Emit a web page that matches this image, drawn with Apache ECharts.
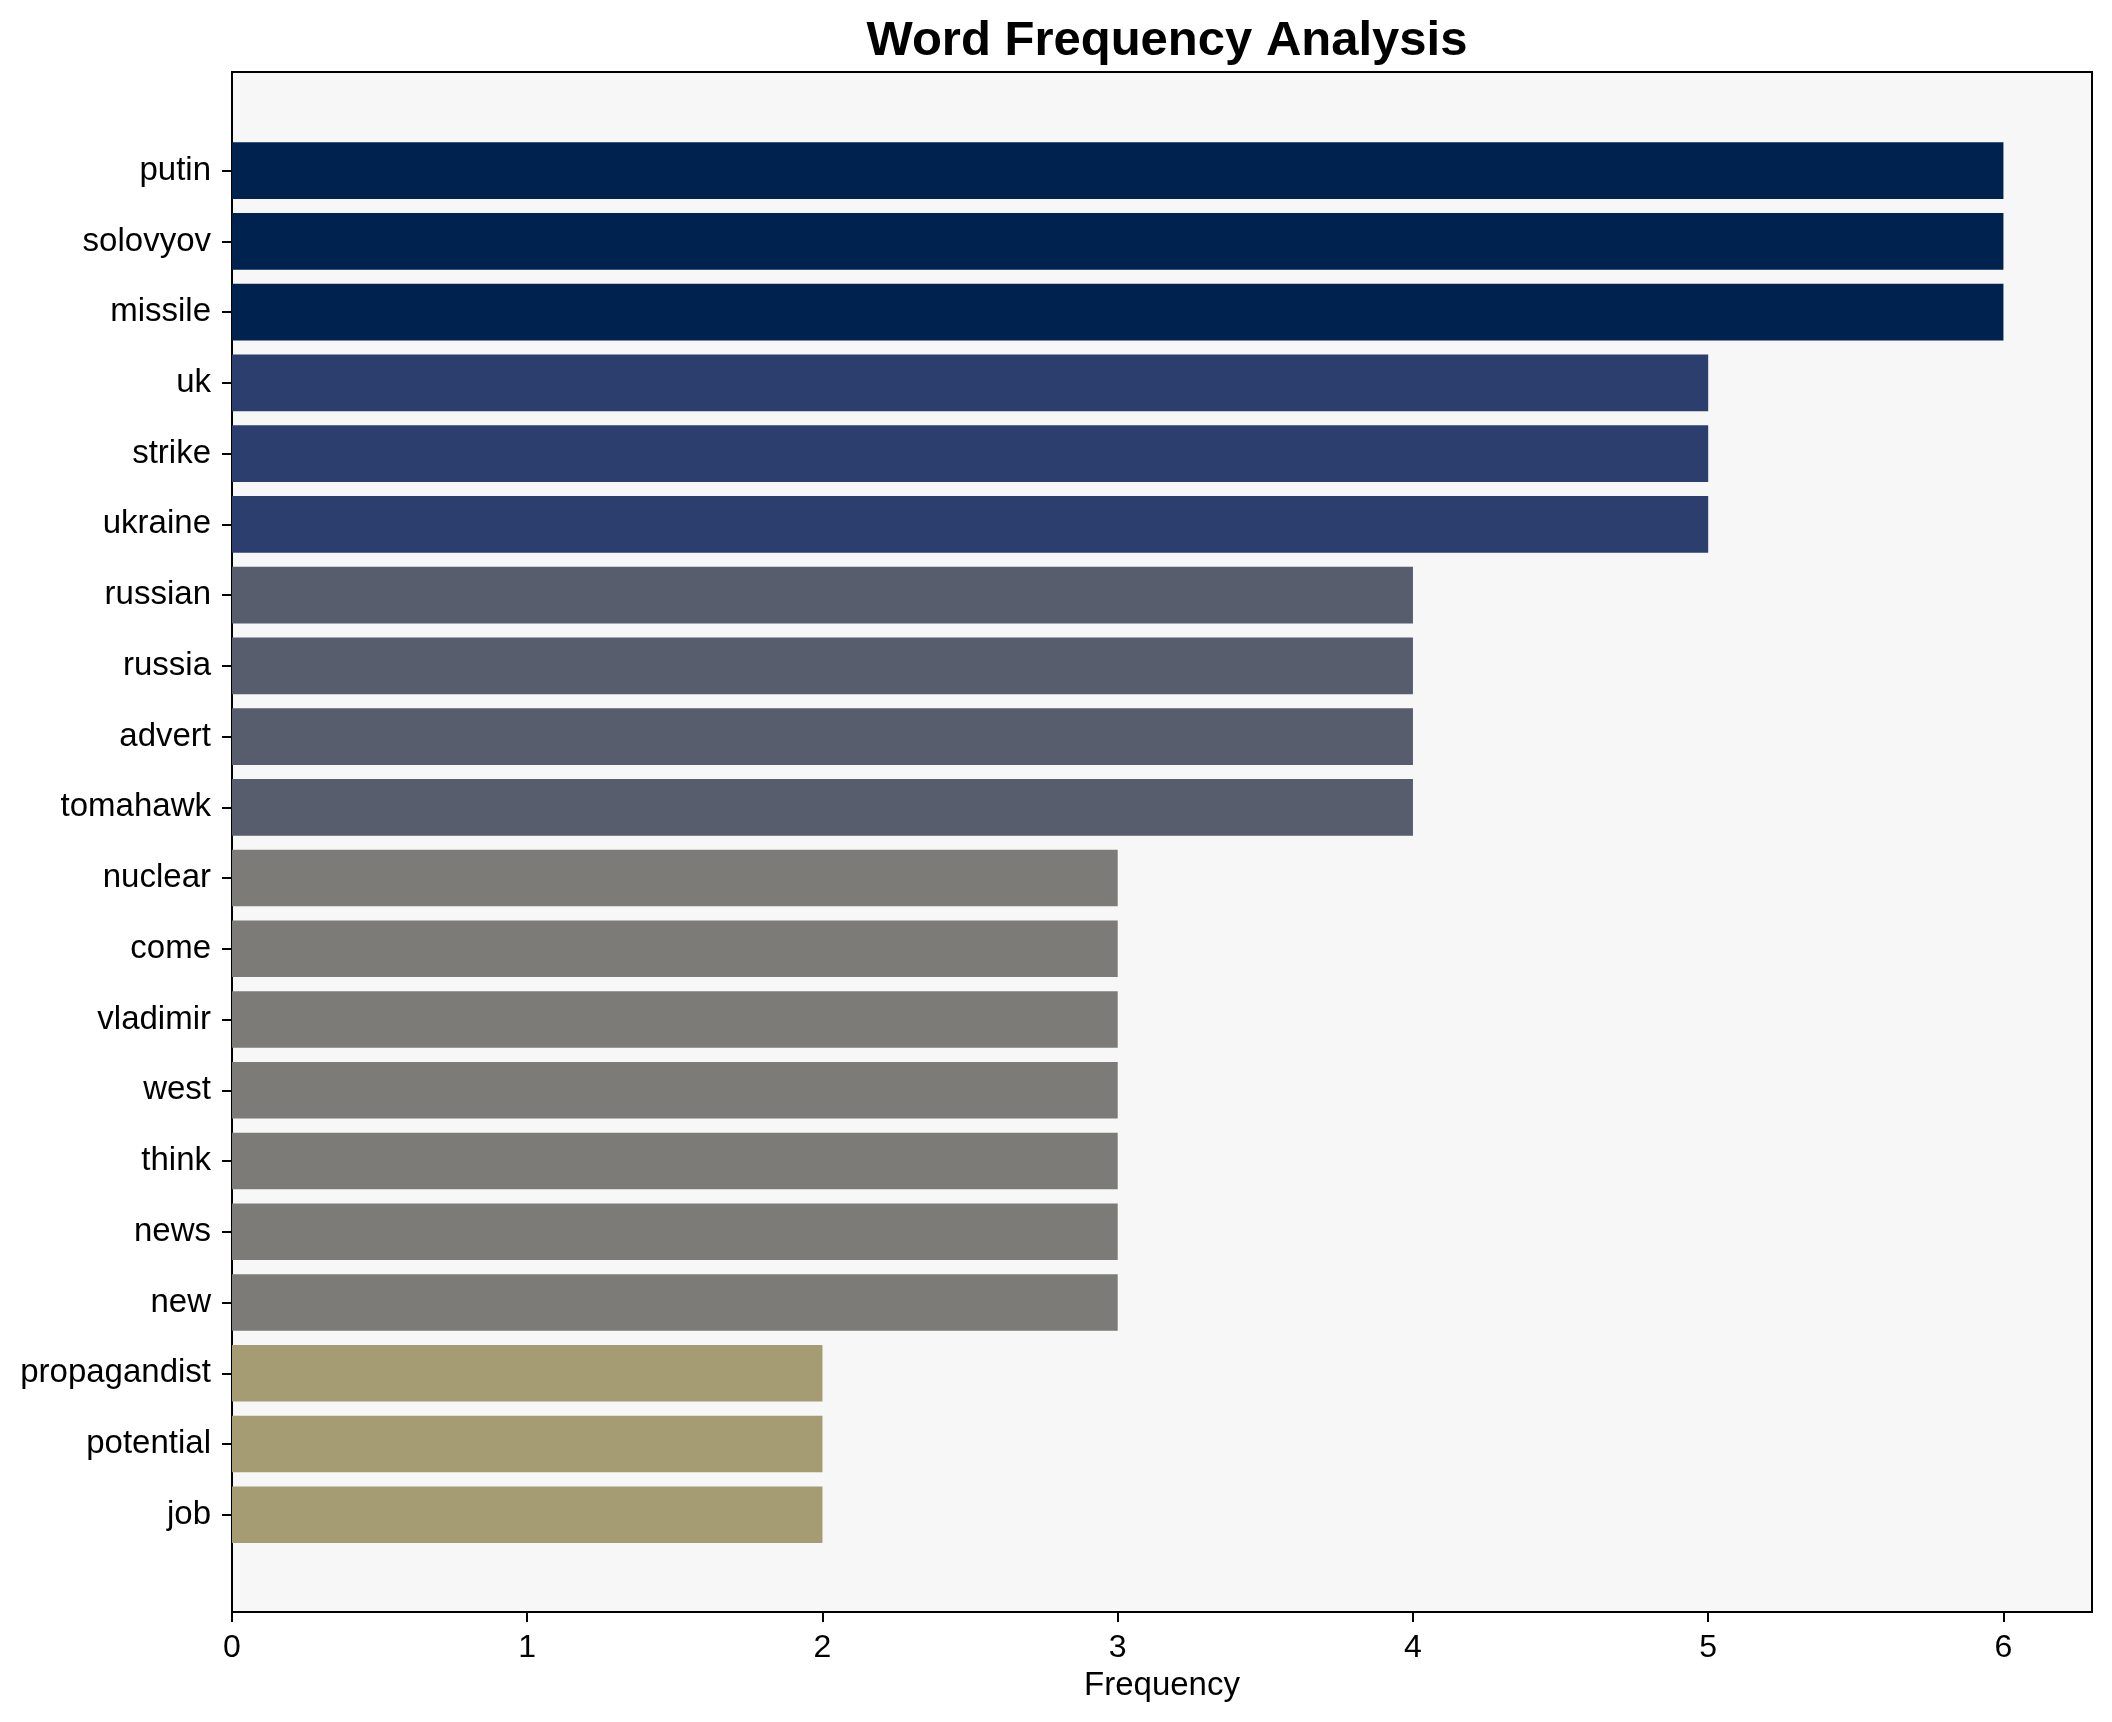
<!DOCTYPE html>
<html>
<head>
<meta charset="utf-8">
<script src="https://cdn.jsdelivr.net/npm/echarts@6/dist/echarts.min.js"></script>
<style>
html,body{margin:0;padding:0;background:#fff;}
#chart{width:2112px;height:1722px;}
</style>
</head>
<body>
<div id="chart"></div>
<script>
const words = ["putin","solovyov","missile","uk","strike","ukraine","russian","russia","advert","tomahawk","nuclear","come","vladimir","west","think","news","new","propagandist","potential","job"];
const frequencies = [6,6,6,5,5,5,4,4,4,4,3,3,3,3,3,3,3,2,2,2];
const xTicks = [0,1,2,3,4,5,6];
const colorByFreq = {6:"#00224e",5:"#2c3e6d",4:"#575d6d",3:"#7c7b78",2:"#a59c74"};

const FONT = "'Liberation Sans', Arial, Helvetica, sans-serif";
const chart = echarts.init(document.getElementById('chart'), null, {renderer:'canvas'});
const option = {
  backgroundColor:'#ffffff',
  animation:false,
  title:{
    text:'Word Frequency Analysis',
    left:1162, top:12, textAlign:'center',
    textStyle:{fontFamily:FONT, fontWeight:'bold', fontSize:49, color:'#000'}
  },
  grid:[
    {left:232, top:72, width:1860, height:1540, show:true, backgroundColor:'#f7f7f7', borderColor:'#000', borderWidth:2},
    {left:232, top:135.3, width:1860, height:1414.8}
  ],
  xAxis:[
    {gridIndex:0, type:'value', min:0, max:6.3, interval:1,
     axisLine:{show:true, lineStyle:{color:'#000', width:2}},
     axisTick:{show:true, length:10, customValues:xTicks, lineStyle:{color:'#000', width:2}},
     axisLabel:{fontFamily:FONT, fontSize:32, color:'#000', margin:20, customValues:xTicks},
     splitLine:{show:false},
     name:'Frequency', nameLocation:'middle', nameGap:57,
     nameTextStyle:{fontFamily:FONT, fontSize:33, color:'#000'}},
    {gridIndex:1, type:'value', min:0, max:6.3, show:false}
  ],
  yAxis:[
    {gridIndex:0, type:'value', min:0, max:1, show:false},
    {gridIndex:1, type:'category', data:words, inverse:true,
     axisLine:{show:false},
     axisTick:{show:true, alignWithLabel:true, length:10, lineStyle:{color:'#000', width:2}},
     axisLabel:{fontFamily:FONT, fontSize:33, color:'#000', margin:21},
     splitLine:{show:false}}
  ],
  series:[{
    type:'bar', xAxisIndex:1, yAxisIndex:1,
    data:frequencies,
    barWidth:'80%',
    itemStyle:{color:function(p){ return colorByFreq[p.value]; }}
  }]
};
chart.setOption(option);
</script>
</body>
</html>
